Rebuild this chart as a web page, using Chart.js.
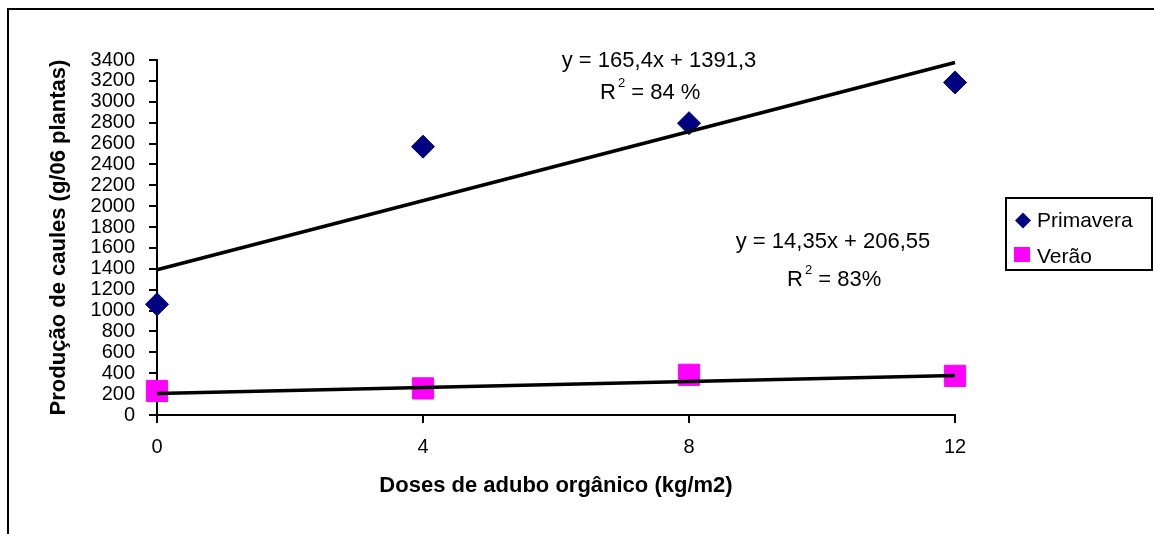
<!DOCTYPE html>
<html>
<head>
<meta charset="utf-8">
<script src="https://cdn.jsdelivr.net/npm/chart.js@4"></script>
<style>
	html, body { margin: 0; padding: 0; background: #fff; }
</style>
</head>
<body>
<canvas id="myChart" width="1154" height="534"></canvas>
<script>
// doses de adubo (kg/m2)
var doses = [0, 4, 8, 12];
// producao de caules (g/06 plantas)
var primavera = [1060, 2570, 2795, 3185];
var verao = [230, 255, 385, 375];
// trend lines, values at dose 0 and dose 12
var trendDoses = [0, 12];
var trendPrimavera = [1391, 3376];
var trendVerao = [207, 379];
var seriesNames = ['Primavera', 'Verão'];
var equations = ['y = 165,4x + 1391,3', 'y = 14,35x + 206,55'];
var r2Labels = [' = 84 %', ' = 83%'];
var yTicks = [0, 3400, 200];
var xTicks = [0, 12, 4];

var FONT = '"Liberation Sans", Arial, sans-serif';

function toPoints(xs, ys) {
	return xs.map(function (x, i) {
		return { x: x, y: ys[i] };
	});
}

function drawR2(ctx, x, y, rest) {
	ctx.textAlign = 'left';
	ctx.font = '22px ' + FONT;
	ctx.fillText('R', x, y);
	var w = ctx.measureText('R').width + 2;
	ctx.font = '13px ' + FONT;
	ctx.fillText('2', x + w, y - 12);
	var w2 = ctx.measureText('2').width;
	ctx.font = '22px ' + FONT;
	ctx.fillText(rest, x + w + w2, y);
}

var extras = {
	id: 'extras',
	beforeDraw: function (chart) {
		var ctx = chart.ctx;
		ctx.save();
		ctx.fillStyle = '#000';
		// outer frame (left and top only)
		ctx.fillRect(7, 8, 2, 526);
		ctx.fillRect(7, 8, 1147, 2);
		ctx.restore();
	},
	afterDraw: function (chart) {
		var ctx = chart.ctx;
		ctx.save();
		ctx.fillStyle = '#000';
		ctx.textBaseline = 'alphabetic';

		// equations
		ctx.font = '22px ' + FONT;
		ctx.textAlign = 'center';
		ctx.fillText(equations[0], 659, 67);
		drawR2(ctx, 600, 99, r2Labels[0]);
		ctx.font = '22px ' + FONT;
		ctx.textAlign = 'center';
		ctx.fillText(equations[1], 833, 248);
		drawR2(ctx, 787, 286, r2Labels[1]);

		// legend box
		ctx.lineWidth = 2;
		ctx.strokeStyle = '#000';
		ctx.strokeRect(1006, 198, 146, 72);

		var ds = chart.data.datasets;
		// diamond
		ctx.fillStyle = ds[0].backgroundColor;
		ctx.beginPath();
		ctx.moveTo(1015, 220.5);
		ctx.lineTo(1023, 212.5);
		ctx.lineTo(1031, 220.5);
		ctx.lineTo(1023, 228.5);
		ctx.closePath();
		ctx.fill();
		// square
		ctx.fillStyle = ds[1].backgroundColor;
		ctx.fillRect(1014, 247, 16, 15);

		ctx.fillStyle = '#000';
		ctx.font = '21px ' + FONT;
		ctx.textAlign = 'left';
		ctx.fillText(ds[0].label, 1037, 227);
		ctx.fillText(ds[1].label, 1037, 263);
		ctx.restore();
	}
};

var ctx = document.getElementById('myChart').getContext('2d');
var myChart = new Chart(ctx, {
	type: 'scatter',
	data: {
		datasets: [
			{
				label: seriesNames[0],
				data: toPoints(doses, primavera),
				backgroundColor: '#000080',
				borderColor: '#000080',
				borderWidth: 1,
				pointStyle: 'rectRot',
				pointRadius: 11.5,
				clip: false,
				order: 1,
			},
			{
				label: seriesNames[1],
				data: toPoints(doses, verao),
				backgroundColor: '#FF00FF',
				borderColor: '#FF00FF',
				borderWidth: 1,
				pointStyle: 'rect',
				pointRadius: 15,
				clip: false,
				order: 1,
			},
			{
				type: 'line',
				label: 'trend1',
				data: toPoints(trendDoses, trendPrimavera),
				borderColor: '#000',
				borderWidth: 3.5,
				pointRadius: 0,
				clip: false,
				order: 0,
			},
			{
				type: 'line',
				label: 'trend2',
				data: toPoints(trendDoses, trendVerao),
				borderColor: '#000',
				borderWidth: 3.5,
				pointRadius: 0,
				clip: false,
				order: 0,
			},
		],
	},
	options: {
		responsive: false,
		animation: false,
		layout: {
			padding: { left: 0, top: 60, right: 199, bottom: 0 },
		},
		plugins: {
			legend: { display: false },
			tooltip: { enabled: false },
		},
		scales: {
			x: {
				type: 'linear',
				min: xTicks[0],
				max: xTicks[1],
				ticks: {
					stepSize: xTicks[2],
					color: '#000',
					padding: 12,
					font: { family: FONT, size: 20 },
					callback: function (v) { return String(v); },
				},
				grid: { drawOnChartArea: false, tickLength: 8, color: '#000', lineWidth: 2 },
				border: { color: '#000', width: 2 },
				title: {
					display: true,
					text: 'Doses de adubo orgânico (kg/m2)',
					color: '#000',
					font: { family: FONT, size: 22, weight: 'bold' },
					padding: { top: 0, bottom: 35 },
				},
				afterFit: function (scale) {
					scale.height = 119;
				},
			},
			y: {
				min: yTicks[0],
				max: yTicks[1],
				ticks: {
					stepSize: yTicks[2],
					autoSkip: false,
					color: '#000',
					padding: 14,
					font: { family: FONT, size: 20 },
					callback: function (v) { return String(v); },
				},
				grid: { drawOnChartArea: false, tickLength: 8, color: '#000', lineWidth: 2 },
				border: { color: '#000', width: 2 },
				title: {
					display: true,
					text: 'Produção de caules (g/06 plantas)',
					color: '#000',
					font: { family: FONT, size: 22, weight: 'bold' },
					padding: { top: 46, bottom: 0 },
				},
				afterFit: function (scale) {
					scale.width = 157;
				},
			},
		},
	},
	plugins: [extras],
});
</script>
</body>
</html>
